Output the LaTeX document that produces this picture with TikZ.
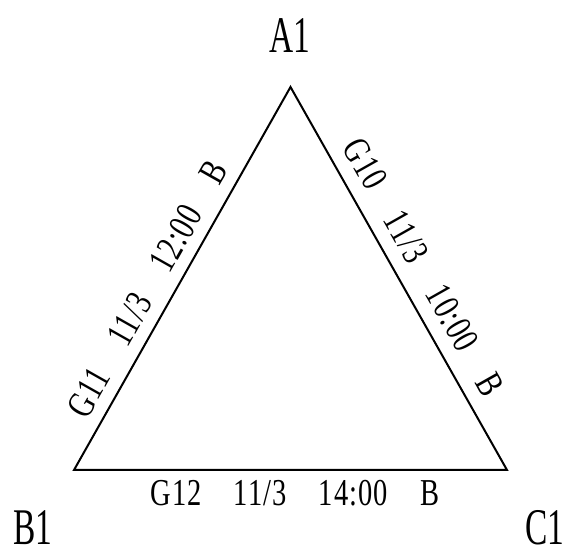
\documentclass[tikz,border=0pt]{standalone}
\usepackage{fontspec}
\setmainfont{Liberation Serif}
\newfontfamily\vtxfont{Liberation Serif}[FakeStretch=0.65]
\newfontfamily\edgfont{Liberation Serif}[FakeStretch=0.75,LetterSpace=3]
\newcommand{\gp}{\hspace{16pt}}
\begin{document}
\begin{tikzpicture}[x=0.5pt,y=-0.5pt,
  edge/.style={line width=1pt, line join=miter},
  vtx/.style={font=\vtxfont\fontsize{25.7}{28}\selectfont, inner sep=0pt, text depth=0pt},
  elab/.style={font=\edgfont\fontsize{19}{21}\selectfont, inner sep=0pt, sloped}]
\useasboundingbox (0,0) rectangle (568,550);
\coordinate (A) at (290.5,87);
\coordinate (B) at (74,470);
\coordinate (C) at (507,470);
\draw[edge] (A) -- (B) -- (C) -- cycle;
\node[vtx, anchor=south] (lA) at (290,53) {A1};
\node[vtx, anchor=south] (lB) at (33,545) {B1};
\node[vtx, anchor=south] (lC) at (545,545) {C1};
\path (B) -- (A) node[elab, pos=0.44, above=6pt] (eBA) {G11\gp 11/3\gp 12:00\gp B};
\path (A) -- (C) node[elab, pos=0.505, above=7pt] (eAC) {G10\gp 11/3\gp 10:00\gp B};
\path (B) -- (C) node[elab, pos=0.51, below=5pt] (eBC) {G12\gp 11/3\gp 14:00\gp B};
\end{tikzpicture}
\end{document}
